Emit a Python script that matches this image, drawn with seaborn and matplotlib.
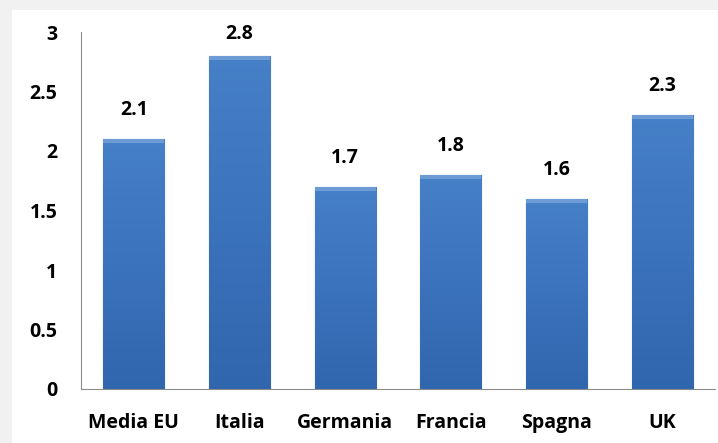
import numpy as np
import pandas as pd
import matplotlib
matplotlib.use("Agg")
import matplotlib.pyplot as plt
import seaborn as sns
from matplotlib.colors import LinearSegmentedColormap

# Data
paesi = ["Media EU", "Italia", "Germania", "Francia", "Spagna", "UK"]
valori = [2.1, 2.8, 1.7, 1.8, 1.6, 2.3]
yticks = [0, 0.5, 1, 1.5, 2, 2.5, 3]
ytick_labels = ["0", "0.5", "1", "1.5", "2", "2.5", "3"]

df = pd.DataFrame({"Paese": paesi, "Valore": valori})

sns.set_style("white")
plt.rcParams["font.family"] = ["Open Sans", "DejaVu Sans"]
plt.rcParams["font.weight"] = "bold"

fig = plt.figure(figsize=(7.18, 4.43), dpi=100)
fig.patch.set_facecolor("#f1f1f1")
# white panel like the reference frame
fig.add_artist(plt.Rectangle((12 / 718, 0), 1, 1 - 10 / 443,
                             transform=fig.transFigure, facecolor="white",
                             edgecolor="none", zorder=0))
ax = fig.add_axes([81 / 718, (443 - 389) / 443, (715 - 81) / 718, (389 - 32) / 443])
ax.set_facecolor("none")

sns.barplot(data=df, x="Paese", y="Valore", color="#3f75bd", width=0.58,
            edgecolor="#2c5c9c", linewidth=0.8, ax=ax, zorder=2)

# vertical gradient on each bar
cmap = LinearSegmentedColormap.from_list("blu", ["#3066ad", "#3b73bc", "#4680c7"])
grad = np.linspace(0, 1, 256).reshape(-1, 1)
for p in ax.patches:
    x0, y0 = p.get_x(), p.get_y()
    w, h = p.get_width(), p.get_height()
    im = ax.imshow(grad, extent=[x0, x0 + w, y0, y0 + h], origin="lower",
                   cmap=cmap, aspect="auto", zorder=3)
    im.set_clip_path(p)
    # light bevel on top
    ax.fill_between([x0, x0 + w], y0 + h - 0.035, y0 + h, color="#6d9bd6",
                    zorder=4, linewidth=0)

for i, v in enumerate(valori):
    ax.text(i, min(v + 0.16, 2.9), f"{v}", ha="center", va="bottom",
            fontsize=14, fontweight="bold", color="black")

ax.set_xlim(-0.5, 5.5)
ax.set_ylim(0, 3)
ax.set_yticks(yticks)
ax.set_yticklabels(ytick_labels)
ax.set_xlabel("")
ax.set_ylabel("")
ax.tick_params(axis="both", length=0, labelsize=14, colors="black")
ax.tick_params(axis="y", pad=17)
ax.tick_params(axis="x", pad=17)
for lab in ax.get_xticklabels() + ax.get_yticklabels():
    lab.set_fontweight("bold")

sns.despine(ax=ax, top=True, right=True)
ax.spines["left"].set_color("#8c8c8c")
ax.spines["bottom"].set_color("#8c8c8c")

fig.savefig("out.png", dpi=100)
